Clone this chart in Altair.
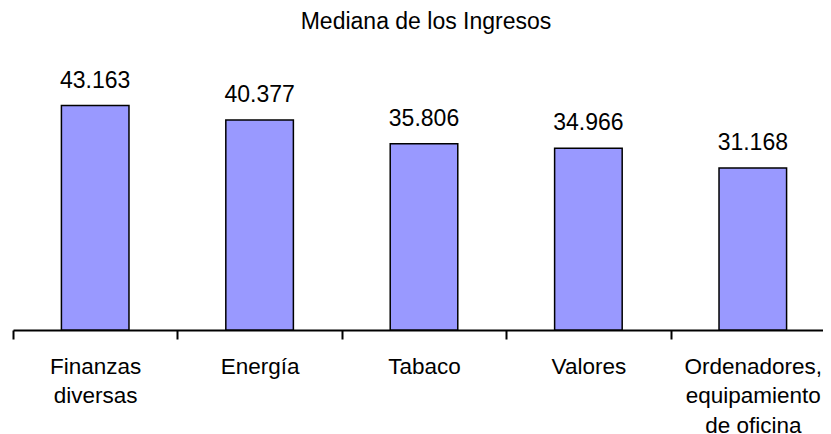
import altair as alt
import pandas as pd

categories = ["Finanzas\ndiversas", "Energía", "Tabaco", "Valores",
              "Ordenadores,\nequipamiento\nde oficina"]
values = [43163, 40377, 35806, 34966, 31168]
value_labels = ["43.163", "40.377", "35.806", "34.966", "31.168"]

df = pd.DataFrame({"cat": categories, "val": values, "lbl": value_labels})

FONT = "Liberation Sans"
RANGE = 822
HALF_STEP = RANGE / len(categories) / 2

base = alt.Chart(df).encode(
    x=alt.X(
        "cat:N",
        sort=categories,
        title=None,
        scale=alt.Scale(paddingInner=0.589, paddingOuter=0.2945, range=[0, RANGE]),
        axis=alt.Axis(
            labelExpr="split(datum.value, '\\n')",
            labelAngle=0,
            tickOffset=-HALF_STEP,
            labelOffset=HALF_STEP,
            domainColor="black",
            domainWidth=2,
            tickColor="black",
            tickWidth=2,
            tickSize=9,
            labelFont=FONT,
            labelFontSize=22.5,
            labelColor="black",
            labelPadding=16,
            labelLineHeight=29.5,
            grid=False,
        ),
    ),
    y=alt.Y("val:Q", scale=alt.Scale(domain=[0, 50000]), axis=None),
)

bars = base.mark_bar(color="#9999FF", stroke="black", strokeWidth=1.5)
text = base.mark_text(dy=-18, baseline="alphabetic", fontSize=23, font=FONT,
                      color="black").encode(text="lbl:N")

chart = (
    (bars + text)
    .properties(
        width=810,
        height=260,
        title=alt.TitleParams(
            "Mediana de los Ingresos",
            font=FONT,
            fontSize=23,
            fontWeight="normal",
            color="black",
            anchor="middle",
            frame="group",
            baseline="alphabetic",
            offset=18,
            dx=8,
        ),
        padding={"left": 5, "top": 62, "right": 0, "bottom": 104},
        autosize="none",
    )
    .configure_view(stroke=None)
)

chart.save("out.html", embed_options={"renderer": "svg", "actions": False})
